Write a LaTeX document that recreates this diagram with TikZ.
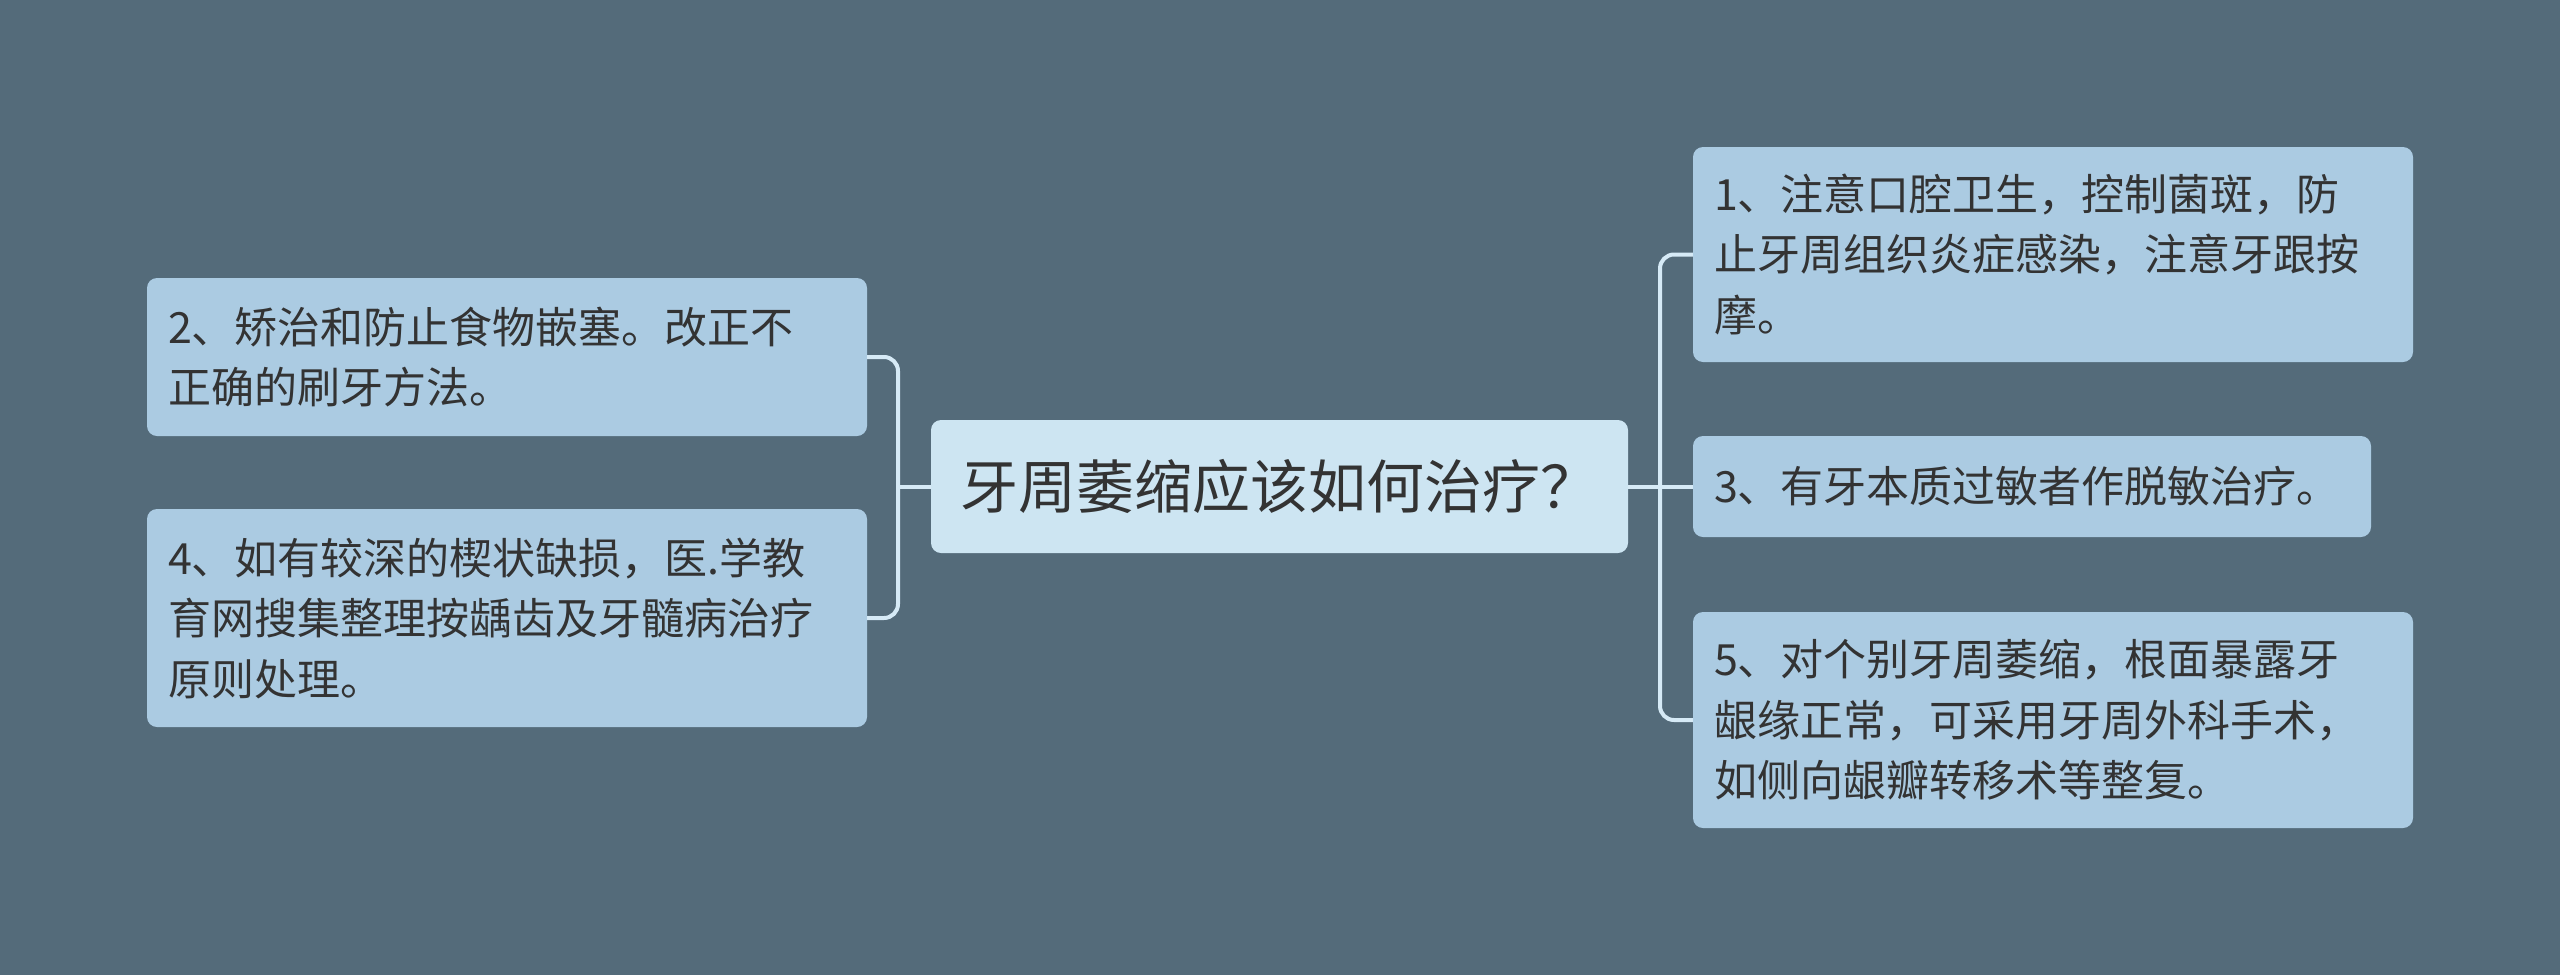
\documentclass[tikz,border=0pt]{standalone}
\usepackage{fontspec}
\setmainfont{Noto Sans CJK SC}
\definecolor{bg}{HTML}{546B7A}
\definecolor{leaf}{HTML}{ABCBE2}
\definecolor{rootc}{HTML}{CDE5F2}
\definecolor{txt}{HTML}{333333}
\definecolor{link}{HTML}{D6EAF6}
\begin{document}
\begin{tikzpicture}[x=1pt,y=-1pt,
  leafbox/.style={fill=leaf, rounded corners=10pt, text=txt,
    font=\fontsize{43}{60.5}\selectfont, align=left,
    inner xsep=21pt, inner ysep=0pt, anchor=center},
  rootbox/.style={fill=rootc, rounded corners=10pt, text=txt,
    font=\fontsize{58}{70}\selectfont, inner sep=0pt, anchor=center},
  linkline/.style={draw=link, line width=4pt, rounded corners=14pt}]
\fill[bg] (0,0) rectangle (2560,975);
\useasboundingbox (0,0) rectangle (2560,975);

\node[rootbox, minimum width=697pt, minimum height=133pt] (c) at (1279.5,486.5) {牙周萎缩应该如何治疗？};

\node[leafbox, text width=678pt, minimum height=215pt] (n1) at (2053,254.5)
  {1、注意口腔卫生，控制菌斑，防\\止牙周组织炎症感染，注意牙跟按\\摩。};
\node[leafbox, text width=636pt, minimum height=101pt] (n3) at (2032,486.5)
  {3、有牙本质过敏者作脱敏治疗。};
\node[leafbox, text width=678pt, minimum height=216pt] (n5) at (2053,720)
  {5、对个别牙周萎缩，根面暴露牙\\龈缘正常，可采用牙周外科手术，\\如侧向龈瓣转移术等整复。};
\node[leafbox, text width=678pt, minimum height=158pt] (n2) at (507,357)
  {2、矫治和防止食物嵌塞。改正不\\正确的刷牙方法。};
\node[leafbox, text width=678pt, minimum height=218pt] (n4) at (507,618)
  {4、如有较深的楔状缺损，医.学教\\育网搜集整理按龋齿及牙髓病治疗\\原则处理。};

\coordinate (rj) at (1660,486.5);
\coordinate (lj) at (898,486.5);

\draw[linkline] (c.east) -- (rj);
\draw[linkline] (n1.west) -| (rj) |- (n5.west);
\draw[linkline] (rj) -- (n3.west);
\draw[linkline] (c.west) -- (lj);
\draw[linkline] (n2.east) -| (lj) |- (n4.east);
\end{tikzpicture}
\end{document}
